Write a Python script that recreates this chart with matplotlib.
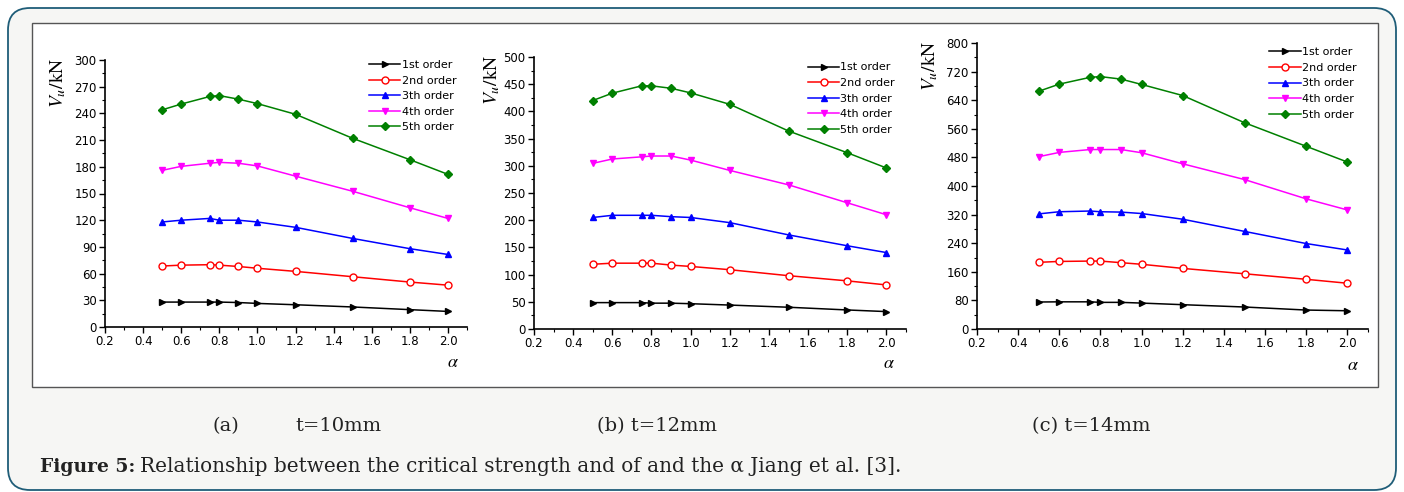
import matplotlib
matplotlib.use("Agg")
import matplotlib.pyplot as plt
from matplotlib.patches import FancyBboxPatch, Rectangle
from matplotlib.transforms import IdentityTransform
from matplotlib.ticker import MultipleLocator

plt.rcParams["mathtext.fontset"] = "stix"

alpha = [0.5, 0.6, 0.75, 0.8, 0.9, 1.0, 1.2, 1.5, 1.8, 2.0]
order_labels = ["1st order", "2nd order", "3th order", "4th order", "5th order"]

# t = 10 mm
t10_1st = [28, 28, 28, 28, 27.5, 26.5, 25, 22.5, 19.5, 17.5]
t10_2nd = [68.5, 69.5, 70, 69.5, 68, 66, 62.5, 56.5, 50.5, 47]
t10_3rd = [118, 120, 122, 120, 120, 118, 112, 99.5, 88, 81.5]
t10_4th = [176, 180.5, 184, 185, 184, 181, 169.5, 152.5, 134, 122]
t10_5th = [244, 250.5, 259, 260, 256, 251, 239, 212, 188, 171.5]

# t = 12 mm
t12_1st = [48.5, 48.5, 48.5, 47.5, 47.5, 46.5, 44, 40, 35, 32]
t12_2nd = [119, 121, 121, 121, 117.5, 115, 109, 98, 88.5, 81]
t12_3rd = [205, 209, 209, 209, 206.5, 205, 195.5, 173, 153, 140.5]
t12_4th = [304.5, 312.5, 316.5, 318, 318, 310.5, 291.5, 265, 232, 210]
t12_5th = [420, 433.5, 447, 447, 442.5, 434, 413, 364, 324, 296]

# t = 14 mm
t14_1st = [75.5, 76, 76, 74.5, 74.5, 72.5, 68, 61.5, 53, 51]
t14_2nd = [186.5, 189, 190, 190, 185.5, 181, 169.5, 154.5, 139, 128]
t14_3rd = [322, 328, 330, 328, 327, 323, 307, 273, 239, 221]
t14_4th = [482, 494, 502, 502, 502, 493, 462, 418, 364, 333]
t14_5th = [665, 685, 704, 706, 699, 684, 653, 577, 511, 467]

panels = [
    ([t10_1st, t10_2nd, t10_3rd, t10_4th, t10_5th], 300, 30),
    ([t12_1st, t12_2nd, t12_3rd, t12_4th, t12_5th], 500, 50),
    ([t14_1st, t14_2nd, t14_3rd, t14_4th, t14_5th], 800, 80),
]
captions = [("(a)", 212), ("t=10mm", 295), ("(b) t=12mm", 597), ("(c) t=14mm", 1032)]

colors = ["black", "red", "blue", "magenta", "#008000"]
markers = [">", "o", "^", "v", "D"]
msizes = [5, 5, 5, 5, 4.2]
facecolors = ["black", "white", "blue", "magenta", "#008000"]

# axes boxes in pixels: left, right, bottom(y from top), top(y from top)
boxes = [(105, 467, 327, 60), (534, 906, 329, 57), (977, 1368, 329, 43)]
legend_anchor = [(0.97, 1.0), (0.97, 0.98), (0.97, 0.985)]
ylabel_pos = [(-0.13, 0.915), (-0.115, 0.915), (-0.122, 0.92)]
alpha_pos = [(0.961, -0.131), (0.954, -0.125), (0.962, -0.126)]

W, H = 1404, 492
fig = plt.figure(figsize=(W / 100, H / 100), dpi=100)
fig.patch.set_facecolor("white")

outer = FancyBboxPatch((8, 2), W - 16, H - 10, boxstyle="round,pad=0,rounding_size=22",
                       transform=IdentityTransform(), facecolor="#f6f6f4",
                       edgecolor="#1f5d78", linewidth=1.3, zorder=-2)
fig.patches.append(outer)
inner = Rectangle((32, H - 387), 1378 - 32, 387 - 23, transform=IdentityTransform(),
                  facecolor="white", edgecolor="#555555", linewidth=1.0, zorder=-1)
fig.patches.append(inner)

for i, (series, ymax, ystep) in enumerate(panels):
    l, r, b, t = boxes[i]
    ax = fig.add_axes([l / W, 1 - b / H, (r - l) / W, (b - t) / H])
    ax.set_facecolor("none")
    for s, lab, c, m, ms, fc in zip(series, order_labels, colors, markers, msizes, facecolors):
        ax.plot(alpha, s, color=c, marker=m, markerfacecolor=fc, markeredgecolor=c,
                markersize=ms, linewidth=1.1, label=lab)
    ax.set_xlim(0.2, 2.1)
    ax.set_ylim(0, ymax)
    ax.xaxis.set_major_locator(MultipleLocator(0.2))
    ax.xaxis.set_minor_locator(MultipleLocator(0.1))
    ax.yaxis.set_major_locator(MultipleLocator(ystep))
    ax.yaxis.set_minor_locator(MultipleLocator(ystep / 2))
    ax.xaxis.set_major_formatter(plt.FuncFormatter(lambda v, p: f"{v:.1f}"))
    for side in ["top", "right"]:
        ax.spines[side].set_visible(False)
    ax.spines["left"].set_linewidth(1.2)
    ax.spines["bottom"].set_linewidth(1.2)
    ax.tick_params(which="major", direction="out", length=4, width=1, labelsize=8.5, pad=2)
    ax.tick_params(which="minor", direction="out", length=2.5, width=0.8)
    ax.legend(loc="upper right", bbox_to_anchor=legend_anchor[i], frameon=False,
              fontsize=8, handlelength=2.8, handletextpad=0.1, labelspacing=0.5,
              borderpad=0, borderaxespad=0)
    ax.text(*ylabel_pos[i], r"$V_{u}/\mathrm{kN}$", transform=ax.transAxes, rotation=90,
            ha="center", va="center", fontsize=14)
    ax.text(*alpha_pos[i], r"$\alpha$", transform=ax.transAxes, ha="center",
            va="center", fontsize=13)

for text, x in captions:
    fig.text(x / W, 1 - 426 / H, text, ha="left", va="center",
             fontsize=14, family="DejaVu Serif", color="#222222")

fig.text(40 / W, 1 - 467 / H, "Figure 5:", ha="left", va="center", fontsize=13.5,
         family="DejaVu Serif", weight="bold", color="#222222")
fig.text(140 / W, 1 - 467 / H,
         "Relationship between the critical strength and of and the \u03b1 Jiang et al. [3].",
         ha="left", va="center", fontsize=14.4, family="DejaVu Serif", color="#222222")

fig.savefig("out.png", dpi=100)
